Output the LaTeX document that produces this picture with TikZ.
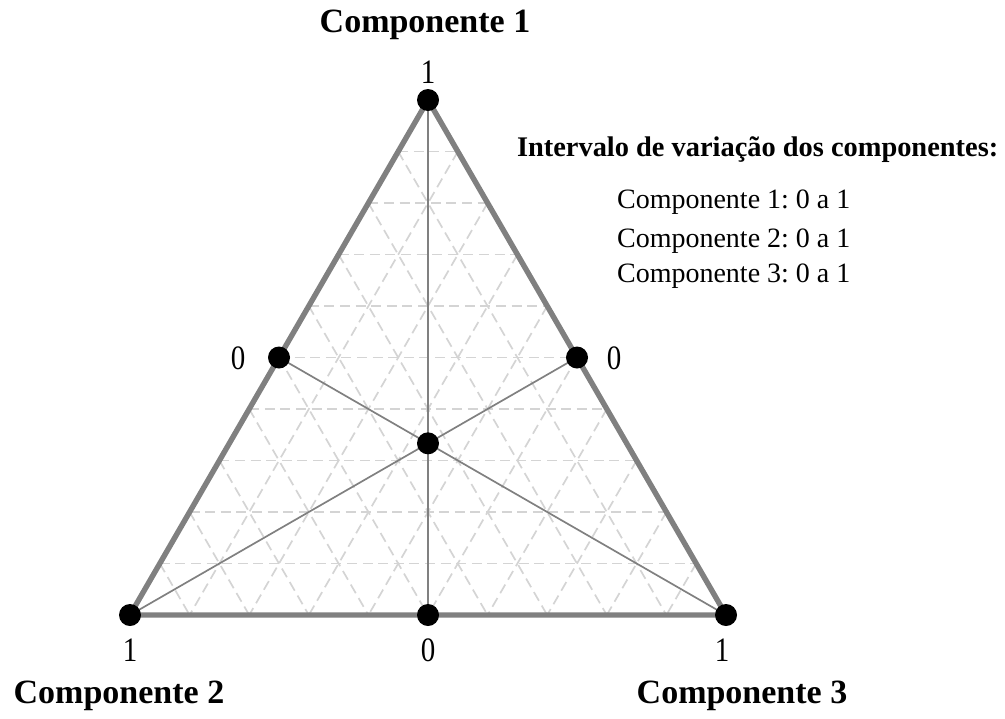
\documentclass[tikz,border=0pt]{standalone}
\usepackage{fontspec}
\setmainfont{Liberation Serif}
\usetikzlibrary{calc}
\definecolor{edgegray}{HTML}{808080}
\definecolor{gridgray}{HTML}{D4D4D4}
\newcommand{\tallnum}[1]{\scalebox{1}[1.18]{#1}}
\tikzset{
  every node/.style={font=\fontsize{13.5}{16}\selectfont},
  dot/.style={circle,fill=black,inner sep=0pt,minimum width=10pt,minimum height=11pt},
  edge/.style={draw=edgegray,line width=2.7pt,line join=round},
  median/.style={draw=edgegray,line width=1.25pt},
  diag/.style={draw=edgegray,line width=0.85pt,shorten >=-5pt},
  gridline/.style={draw=gridgray,line width=0.85pt,dash pattern=on 5pt off 2.8pt},
  title/.style={font=\fontsize{17}{20}\selectfont\bfseries},
  head/.style={font=\fontsize{14.2}{17}\selectfont\bfseries},
  item/.style={font=\fontsize{14}{17}\selectfont},
  num/.style={font=\fontsize{14.5}{17}\selectfont},
}
\frenchspacing
\begin{document}
\begin{tikzpicture}[x=0.5pt,y=-0.5pt]
\useasboundingbox (0,0) rectangle (1005,718);
\coordinate (A) at (428,100);
\coordinate (B) at (130,615);
\coordinate (C) at (726,615);
\coordinate (MAB) at ($(A)!0.5!(B)$);
\coordinate (MAC) at ($(A)!0.5!(C)$);
\coordinate (MBC) at ($(B)!0.5!(C)$);
\coordinate (G) at ($1/3*(A)+1/3*(B)+1/3*(C)$);
% grid
\foreach \t in {0.1,0.2,...,0.95}{
  \draw[gridline] ($(A)!\t!(B)$) -- ($(A)!\t!(C)$);
  \draw[gridline] ($(B)!\t!(A)$) -- ($(B)!\t!(C)$);
  \draw[gridline] ($(C)!\t!(A)$) -- ($(C)!\t!(B)$);
}
% medians
\draw[median] (A) -- (MBC);
\draw[diag] (MAB) -- (C);
\draw[diag] (MAC) -- (B);
% edges
\draw[edge] (A) -- (B) -- (C) -- cycle;
% dots
\node[dot] (dA) at (A) {};
\node[dot] (dB) at (B) {};
\node[dot] (dC) at (C) {};
\node[dot] (dAB) at (MAB) {};
\node[dot] (dAC) at (MAC) {};
\node[dot] (dBC) at (MBC) {};
\node[dot] (dG) at (G) {};
% labels
\node[title] (t1) at (425,25) {Componente 1};
\node[title] (t2) at (119,696) {Componente 2};
\node[title] (t3) at (742,696) {Componente 3};
\node[num] (n1) at (428,72) {\tallnum{1}};
\node[num] (n2) at (238,358) {\tallnum{0}};
\node[num] (n3) at (614,358) {\tallnum{0}};
\node[num] (n4) at (130,650) {\tallnum{1}};
\node[num] (n5) at (428,650) {\tallnum{0}};
\node[num] (n6) at (722,650) {\tallnum{1}};
\node[head,anchor=west] (hd) at (510,150) {Intervalo de variação dos componentes:};
\node[item,anchor=west] (l1) at (610,202) {Componente 1: 0 a 1};
\node[item,anchor=west] (l2) at (610,241) {Componente 2: 0 a 1};
\node[item,anchor=west] (l3) at (610,276) {Componente 3: 0 a 1};
\end{tikzpicture}
\end{document}
